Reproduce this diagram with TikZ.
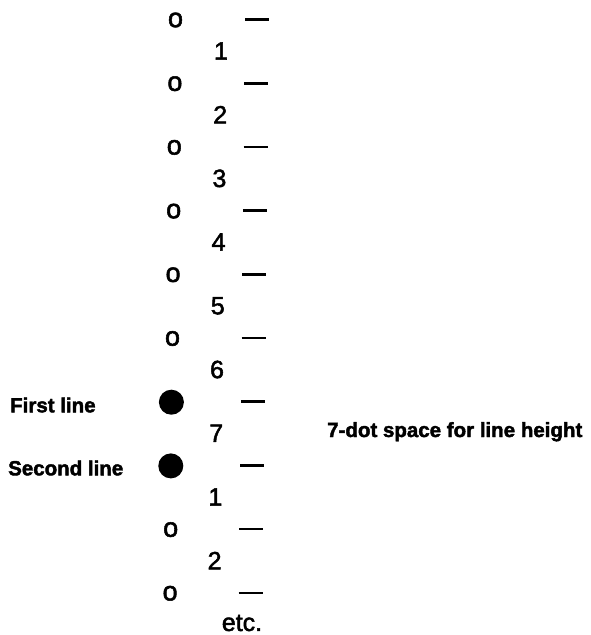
\documentclass[tikz,border=0pt]{standalone}
\usepackage{fontspec}
\setmainfont{Liberation Sans}
\newfontfamily\regfont[FakeBold=2]{Liberation Sans}
\newfontfamily\labfont[FakeBold=2]{Liberation Sans Bold}
\begin{document}
\begin{tikzpicture}[x=1pt,y=-1pt,
  reg/.style={inner sep=0pt,font=\regfont\fontsize{25}{25}\selectfont},
  oreg/.style={inner sep=0pt,font=\regfont\fontsize{27}{27}\selectfont},
  lab/.style={inner sep=0pt,font=\labfont\fontsize{20.5}{20.5}\selectfont},
  tick/.style={line width=2.6pt},
  bigdot/.style={circle,fill=black,minimum size=25pt,inner sep=0pt}]
\useasboundingbox (0,0) rectangle (591,635);
% row markers
\foreach \i in {0,1,2,3,4,5,8,9}{
  \pgfmathsetmacro{\yy}{20+63.7*\i}
  \pgfmathsetmacro{\ss}{-0.6*\i}
  \node[oreg] (o\i) at ({175.5+\ss},\yy) {o};
}
\foreach \i in {6,7}{
  \pgfmathsetmacro{\yy}{20+63.7*\i}
  \pgfmathsetmacro{\ss}{-0.6*\i}
  \node[bigdot] (o\i) at ({175+\ss},\yy) {};
}
\foreach \i in {0,...,9}{
  \pgfmathsetmacro{\yy}{19.5+63.7*\i}
  \pgfmathsetmacro{\ss}{-0.7*\i}
  \coordinate (ta\i) at ({245+\ss},\yy);
  \coordinate (tb\i) at ({269+\ss},\yy);
  \draw[tick] (ta\i) -- (tb\i);
}
\foreach \i/\t in {0/1,1/2,2/3,3/4,4/5,5/6,6/7,7/1,8/2}{
  \pgfmathsetmacro{\yy}{51+63.7*\i}
  \pgfmathsetmacro{\ss}{-0.8*\i}
  \node[reg] (n\i) at ({221+\ss},\yy) {\t};
}
\node[reg] (etc) at (242,623) {etc.};
\node[lab,anchor=west] (first) at (10,405) {First line};
\node[lab,anchor=west] (second) at (8,468) {Second line};
\node[lab,anchor=base west] (space) at (327,437) {7-dot space for line height};
\end{tikzpicture}
\end{document}
